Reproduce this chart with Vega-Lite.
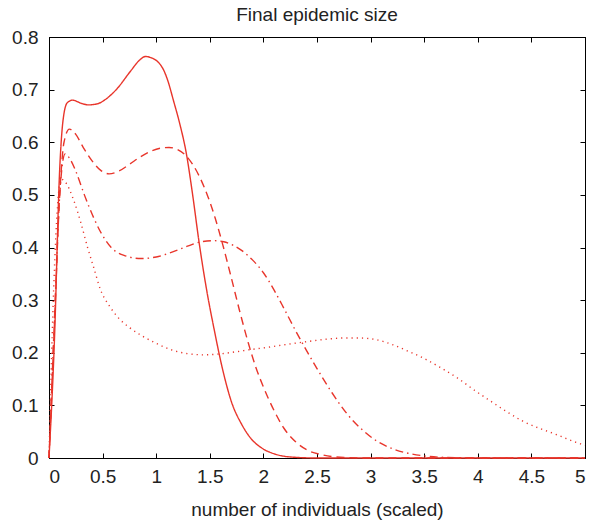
{
  "$schema": "https://vega.github.io/schema/vega-lite/v6.json",
  "width": 536,
  "height": 421,
  "autosize": {"type": "none"},
  "padding": {"left": 49, "top": 37, "right": 9, "bottom": 65},
  "background": "white",
  "title": {"text": "Final epidemic size", "fontSize": 19, "font": "Liberation Sans", "fontWeight": "normal", "color": "#222", "offset": 3},
  "config": {
    "view": {"stroke": "black", "strokeWidth": 1},
    "axis": {"grid": false, "domainColor": "black", "tickColor": "black", "labelFont": "Liberation Sans", "labelFontSize": 19, "labelColor": "#222", "titleFont": "Liberation Sans", "titleFontSize": 19, "titleFontWeight": "normal", "titleColor": "#222", "tickSize": -5}
  },
  "data": {"values": [
    {"s":"a","x":0,"y":0},{"s":"a","x":0.05,"y":0.22},{"s":"a","x":0.1,"y":0.55},{"s":"a","x":0.13,"y":0.64},{"s":"a","x":0.17,"y":0.675},{"s":"a","x":0.22,"y":0.68},{"s":"a","x":0.3,"y":0.674},{"s":"a","x":0.37,"y":0.671},{"s":"a","x":0.45,"y":0.673},{"s":"a","x":0.55,"y":0.685},{"s":"a","x":0.64,"y":0.703},{"s":"a","x":0.76,"y":0.735},{"s":"a","x":0.85,"y":0.757},{"s":"a","x":0.9,"y":0.763},{"s":"a","x":0.96,"y":0.76},{"s":"a","x":1.02,"y":0.752},{"s":"a","x":1.07,"y":0.737},{"s":"a","x":1.11,"y":0.716},{"s":"a","x":1.16,"y":0.68},{"s":"a","x":1.22,"y":0.635},{"s":"a","x":1.28,"y":0.58},{"s":"a","x":1.34,"y":0.5},{"s":"a","x":1.4,"y":0.41},{"s":"a","x":1.47,"y":0.32},{"s":"a","x":1.54,"y":0.245},{"s":"a","x":1.62,"y":0.168},{"s":"a","x":1.7,"y":0.108},{"s":"a","x":1.8,"y":0.063},{"s":"a","x":1.88,"y":0.038},{"s":"a","x":2.0,"y":0.017},{"s":"a","x":2.1,"y":0.008},{"s":"a","x":2.25,"y":0.002},{"s":"a","x":2.5,"y":0},{"s":"a","x":5,"y":0},
    {"s":"b","x":0,"y":0},{"s":"b","x":0.05,"y":0.25},{"s":"b","x":0.1,"y":0.5},{"s":"b","x":0.14,"y":0.6},{"s":"b","x":0.19,"y":0.625},{"s":"b","x":0.25,"y":0.615},{"s":"b","x":0.32,"y":0.59},{"s":"b","x":0.4,"y":0.565},{"s":"b","x":0.48,"y":0.547},{"s":"b","x":0.56,"y":0.54},{"s":"b","x":0.65,"y":0.545},{"s":"b","x":0.75,"y":0.558},{"s":"b","x":0.85,"y":0.572},{"s":"b","x":0.95,"y":0.583},{"s":"b","x":1.05,"y":0.589},{"s":"b","x":1.12,"y":0.59},{"s":"b","x":1.2,"y":0.586},{"s":"b","x":1.27,"y":0.576},{"s":"b","x":1.34,"y":0.558},{"s":"b","x":1.41,"y":0.532},{"s":"b","x":1.48,"y":0.498},{"s":"b","x":1.55,"y":0.456},{"s":"b","x":1.62,"y":0.406},{"s":"b","x":1.7,"y":0.343},{"s":"b","x":1.78,"y":0.278},{"s":"b","x":1.86,"y":0.218},{"s":"b","x":1.93,"y":0.172},{"s":"b","x":2.0,"y":0.135},{"s":"b","x":2.1,"y":0.09},{"s":"b","x":2.19,"y":0.057},{"s":"b","x":2.3,"y":0.031},{"s":"b","x":2.41,"y":0.015},{"s":"b","x":2.55,"y":0.006},{"s":"b","x":2.75,"y":0.001},{"s":"b","x":3.0,"y":0},{"s":"b","x":5,"y":0},
    {"s":"c","x":0,"y":0},{"s":"c","x":0.05,"y":0.26},{"s":"c","x":0.1,"y":0.5},{"s":"c","x":0.15,"y":0.578},{"s":"c","x":0.19,"y":0.57},{"s":"c","x":0.25,"y":0.545},{"s":"c","x":0.33,"y":0.5},{"s":"c","x":0.42,"y":0.455},{"s":"c","x":0.48,"y":0.43},{"s":"c","x":0.58,"y":0.4},{"s":"c","x":0.7,"y":0.385},{"s":"c","x":0.86,"y":0.379},{"s":"c","x":1.0,"y":0.382},{"s":"c","x":1.16,"y":0.392},{"s":"c","x":1.3,"y":0.403},{"s":"c","x":1.42,"y":0.411},{"s":"c","x":1.54,"y":0.413},{"s":"c","x":1.63,"y":0.411},{"s":"c","x":1.72,"y":0.404},{"s":"c","x":1.8,"y":0.394},{"s":"c","x":1.9,"y":0.376},{"s":"c","x":2.0,"y":0.352},{"s":"c","x":2.1,"y":0.319},{"s":"c","x":2.2,"y":0.281},{"s":"c","x":2.3,"y":0.242},{"s":"c","x":2.4,"y":0.205},{"s":"c","x":2.5,"y":0.17},{"s":"c","x":2.64,"y":0.124},{"s":"c","x":2.78,"y":0.084},{"s":"c","x":2.92,"y":0.054},{"s":"c","x":3.06,"y":0.032},{"s":"c","x":3.2,"y":0.018},{"s":"c","x":3.35,"y":0.009},{"s":"c","x":3.5,"y":0.004},{"s":"c","x":3.7,"y":0.001},{"s":"c","x":4,"y":0},{"s":"c","x":5,"y":0},
    {"s":"d","x":0,"y":0},{"s":"d","x":0.04,"y":0.3},{"s":"d","x":0.08,"y":0.48},{"s":"d","x":0.11,"y":0.53},{"s":"d","x":0.15,"y":0.525},{"s":"d","x":0.23,"y":0.49},{"s":"d","x":0.3,"y":0.445},{"s":"d","x":0.36,"y":0.4},{"s":"d","x":0.42,"y":0.36},{"s":"d","x":0.48,"y":0.32},{"s":"d","x":0.56,"y":0.29},{"s":"d","x":0.64,"y":0.268},{"s":"d","x":0.75,"y":0.248},{"s":"d","x":0.86,"y":0.233},{"s":"d","x":1.0,"y":0.218},{"s":"d","x":1.15,"y":0.205},{"s":"d","x":1.3,"y":0.198},{"s":"d","x":1.45,"y":0.196},{"s":"d","x":1.6,"y":0.198},{"s":"d","x":1.75,"y":0.202},{"s":"d","x":1.88,"y":0.206},{"s":"d","x":2.03,"y":0.21},{"s":"d","x":2.19,"y":0.215},{"s":"d","x":2.4,"y":0.221},{"s":"d","x":2.6,"y":0.226},{"s":"d","x":2.75,"y":0.228},{"s":"d","x":2.9,"y":0.228},{"s":"d","x":3.05,"y":0.225},{"s":"d","x":3.21,"y":0.215},{"s":"d","x":3.35,"y":0.203},{"s":"d","x":3.49,"y":0.19},{"s":"d","x":3.65,"y":0.172},{"s":"d","x":3.81,"y":0.152},{"s":"d","x":3.96,"y":0.13},{"s":"d","x":4.12,"y":0.108},{"s":"d","x":4.27,"y":0.088},{"s":"d","x":4.42,"y":0.07},{"s":"d","x":4.58,"y":0.056},{"s":"d","x":4.74,"y":0.044},{"s":"d","x":4.86,"y":0.034},{"s":"d","x":5.0,"y":0.024}
  ]},
  "layer": [
    {
      "mark": {"type": "line", "color": "#e8352b", "strokeWidth": 1.4, "interpolate": "monotone"},
      "encoding": {
        "x": {"field": "x", "type": "quantitative", "scale": {"domain": [0, 5], "nice": false}, "axis": {"orient": "bottom", "values": [0,0.5,1,1.5,2,2.5,3,3.5,4,4.5,5], "format": "~g", "title": "number of individuals (scaled)", "labelPadding": 14, "titlePadding": 14}},
        "y": {"field": "y", "type": "quantitative", "scale": {"domain": [0, 0.8], "nice": false}, "axis": {"orient": "left", "values": [0,0.1,0.2,0.3,0.4,0.5,0.6,0.7,0.8], "format": "~g", "title": null, "labelPadding": 16}},
        "detail": {"field": "s"},
        "strokeDash": {"field": "s", "type": "nominal", "scale": {"domain": ["a","b","c","d"], "range": [[1,0],[8,5],[8,4,1.5,4],[1.2,4]]}, "legend": null}
      }
    },
    {
      "mark": {"type": "line", "opacity": 0},
      "encoding": {
        "x": {"field": "x", "type": "quantitative", "axis": {"orient": "top", "values": [0,0.5,1,1.5,2,2.5,3,3.5,4,4.5,5], "labels": false, "title": null}},
        "y": {"field": "y", "type": "quantitative", "axis": {"orient": "right", "values": [0,0.1,0.2,0.3,0.4,0.5,0.6,0.7,0.8], "labels": false, "title": null}},
        "detail": {"field": "s"}
      }
    }
  ],
  "resolve": {"axis": {"x": "independent", "y": "independent"}}
}
